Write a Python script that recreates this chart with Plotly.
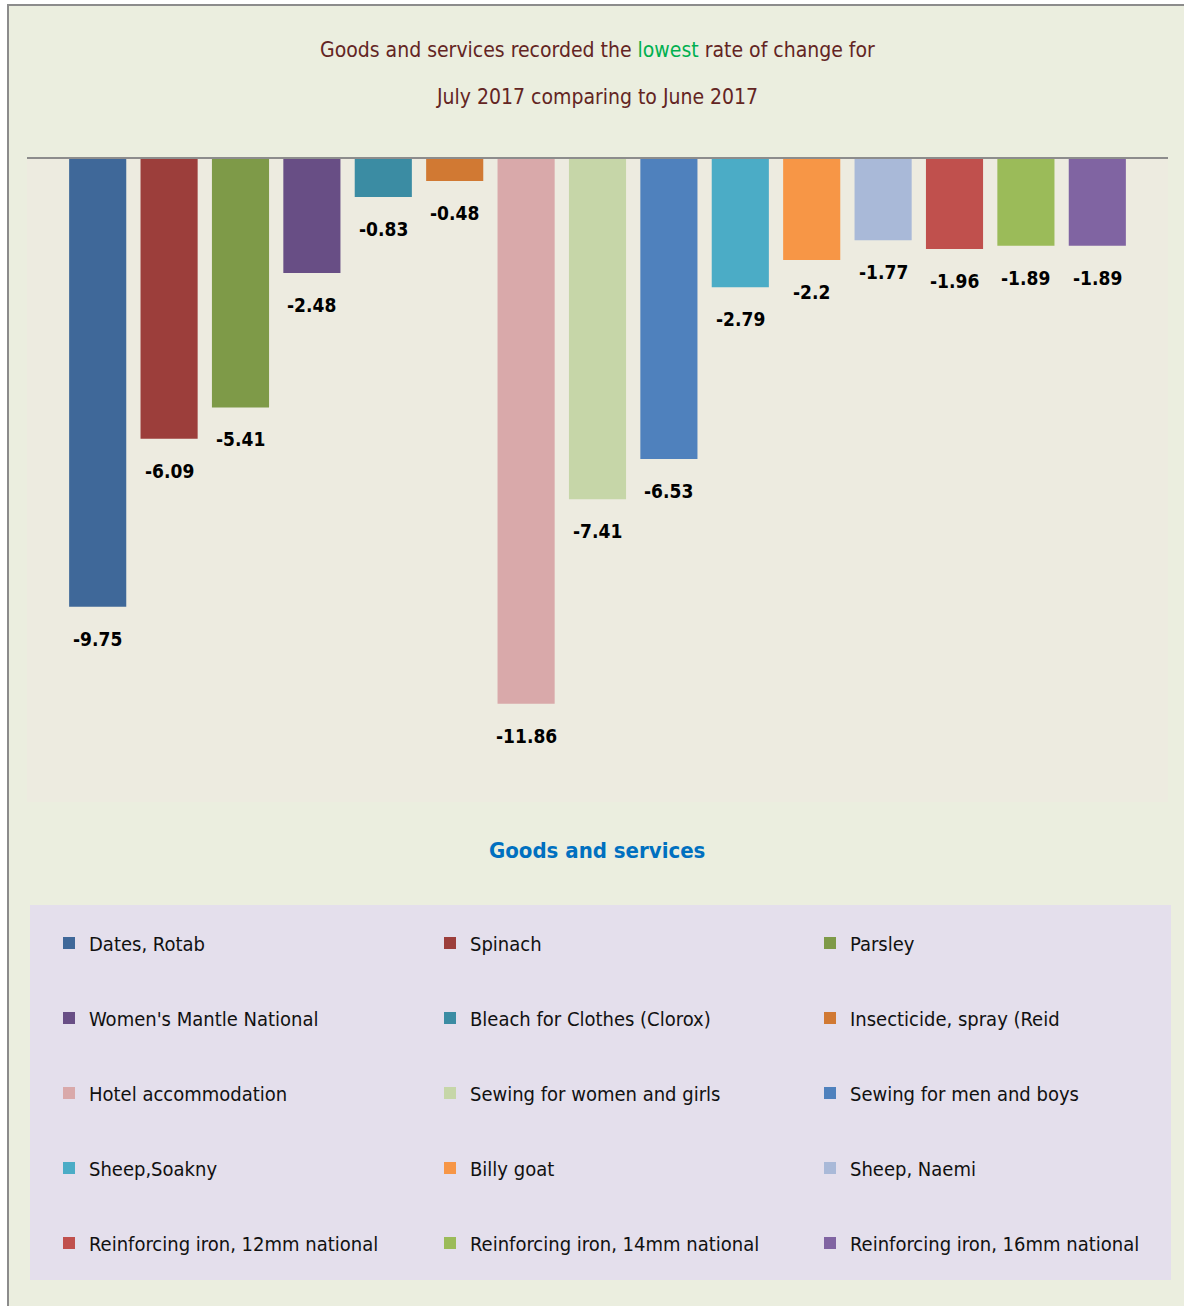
import plotly.graph_objects as go

categories = ["Dates, Rotab", "Spinach", "Parsley", "Women's Mantle National",
              "Bleach for Clothes (Clorox)", "Insecticide, spray (Reid",
              "Hotel accommodation", "Sewing for women and girls", "Sewing for men and boys",
              "Sheep,Soakny", "Billy goat", "Sheep, Naemi",
              "Reinforcing iron, 12mm national", "Reinforcing iron, 14mm national",
              "Reinforcing iron, 16mm national"]
values = [-9.75, -6.09, -5.41, -2.48, -0.83, -0.48, -11.86, -7.41, -6.53,
          -2.79, -2.2, -1.77, -1.96, -1.89, -1.89]
colors = ["#3F6899", "#9C3E3B", "#7E9A48", "#684E85", "#3B8CA3", "#D17933",
          "#D9A9AA", "#C6D6A8", "#4F81BD", "#4BACC6", "#F79646", "#A9B9D8",
          "#C0504D", "#9BBB59", "#8064A2"]

W, H = 1184, 1306
NARROW = "Liberation Sans Narrow, Arial Narrow, DejaVu Sans Condensed, sans-serif"

def px(x):
    return x / W

def py(y):
    return 1 - y / H

def legend_key(i):
    return "legend" if i == 0 else f"legend{i + 1}"

fig = go.Figure()
for i, (c, v, col) in enumerate(zip(categories, values, colors)):
    fig.add_trace(go.Bar(
        x=[c], y=[v], name=c, marker=dict(color=col, line=dict(width=0)),
        width=0.8, legend=legend_key(i), hoverinfo="x+y",
    ))

annotations = []
for c, v in zip(categories, values):
    annotations.append(dict(
        x=c, y=v, xref="x", yref="y", text=f"{v}", showarrow=False,
        yshift=-32, yanchor="middle", xanchor="center",
        font=dict(family=NARROW, size=19, color="#000000", weight="bold"),
    ))

annotations.append(dict(
    x=px(597), y=py(50), xref="paper", yref="paper", showarrow=False,
    text="Goods and services recorded the <span style='color:#00B050'>lowest</span> rate of change for",
    font=dict(family=NARROW, size=21, color="#632523"), xanchor="center", yanchor="middle",
))
annotations.append(dict(
    x=px(597), y=py(97), xref="paper", yref="paper", showarrow=False,
    text="July 2017 comparing to June 2017",
    font=dict(family=NARROW, size=21, color="#632523"), xanchor="center", yanchor="middle",
))
annotations.append(dict(
    x=px(597), y=py(850), xref="paper", yref="paper", showarrow=False,
    text="Goods and services",
    font=dict(family=NARROW, size=22, color="#0070C0", weight="bold"),
    xanchor="center", yanchor="middle",
))

shapes = [
    dict(type="rect", xref="paper", yref="paper", x0=px(8), x1=1.02, y0=-0.02, y1=py(5),
         fillcolor="#EBEEDF", line=dict(color="#8C8C8C", width=2), layer="below"),
    dict(type="rect", xref="paper", yref="paper", x0=px(27), x1=px(1168), y0=py(802), y1=py(159),
         fillcolor="#EDEBE0", line=dict(width=0), layer="below"),
    dict(type="rect", xref="paper", yref="paper", x0=px(30), x1=px(1171), y0=py(1280), y1=py(905),
         fillcolor="#E4DFEC", line=dict(width=0), layer="below"),
]

row_y = [943, 1018, 1093, 1168, 1243]
col_x = [49, 430, 810]
legends = {}
for i in range(len(categories)):
    r, cidx = divmod(i, 3)
    legends[legend_key(i)] = dict(
        orientation="h", bgcolor="rgba(0,0,0,0)", borderwidth=0,
        font=dict(family=NARROW, size=20, color="#111111"),
        xanchor="left", yanchor="middle", x=px(col_x[cidx]), y=py(row_y[r]),
    )

fig.update_layout(
    width=W, height=H, autosize=False,
    margin=dict(l=0, r=0, t=0, b=0, pad=0),
    paper_bgcolor="#FFFFFF", plot_bgcolor="rgba(0,0,0,0)",
    showlegend=True, bargap=0.2,
    xaxis=dict(domain=[px(27), px(1168)], range=[-0.99, 14.99], side="top",
               showline=True, linecolor="#8C8C8C", linewidth=2,
               showticklabels=False, ticks="", showgrid=False, zeroline=False,
               fixedrange=True),
    yaxis=dict(domain=[py(802), py(159)], range=[-14, 0], visible=False,
               showgrid=False, zeroline=False, fixedrange=True),
    annotations=annotations, shapes=shapes,
    **legends,
)

fig.write_html("out.html")
